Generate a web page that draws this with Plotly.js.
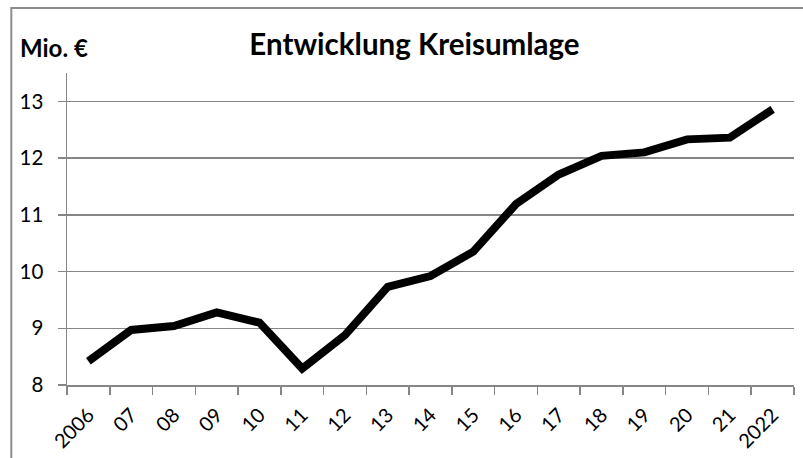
<!DOCTYPE html>
<html>
<head>
<meta charset="utf-8">
<script src="https://cdn.plot.ly/plotly-3.0.1.min.js"></script>
<style>
  html, body { margin: 0; padding: 0; background: #ffffff; }
  #chart { width: 803px; height: 458px; }
</style>
</head>
<body>
<div id="chart"></div>
<script>
const years = ["2006", "07", "08", "09", "10", "11", "12", "13", "14", "15", "16", "17", "18", "19", "20", "21", "2022"];
const kreisumlage = [8.42, 8.97, 9.04, 9.28, 9.10, 8.29, 8.88, 9.73, 9.92, 10.35, 11.19, 11.71, 12.04, 12.10, 12.33, 12.36, 12.86];
const yTicks = [8, 9, 10, 11, 12, 13];
const titleText = "Entwicklung Kreisumlage";
const unitText = "Mio. €";

const FONT = "Lato, 'Open Sans', 'Noto Sans', sans-serif";
const GRID = "#868686";

const trace = {
  type: "scatter",
  mode: "lines",
  x: years,
  y: kreisumlage,
  line: { color: "#000000", width: 8, shape: "linear" },
  hoverinfo: "x+y"
};

const layout = {
  width: 803,
  height: 458,
  margin: { l: 67, r: 9, t: 73, b: 73, pad: 0 },
  paper_bgcolor: "#ffffff",
  plot_bgcolor: "#ffffff",
  showlegend: false,
  font: { family: FONT, color: "#000000", size: 20 },
  title: {
    text: "<b>" + titleText + "</b>",
    font: { family: FONT, size: 29.5, color: "#000000" },
    xref: "paper",
    x: 0.478,
    xanchor: "center",
    yref: "container",
    y: 0.902,
    yanchor: "middle"
  },
  xaxis: {
    type: "category",
    range: [-0.5, years.length - 0.5],
    tickson: "boundaries",
    ticks: "outside",
    ticklen: 8,
    tickwidth: 1.5,
    tickcolor: GRID,
    showline: true,
    linecolor: GRID,
    linewidth: 1.5,
    showgrid: false,
    zeroline: false,
    tickangle: -45,
    ticklabelstandoff: 9,
    tickfont: { family: FONT, size: 20, color: "#000000" },
    fixedrange: true
  },
  yaxis: {
    range: [8, 13.5],
    tickvals: yTicks,
    ticktext: yTicks.map(String),
    ticks: "outside",
    ticklen: 8,
    tickwidth: 1.5,
    tickcolor: GRID,
    showline: true,
    linecolor: GRID,
    linewidth: 1.5,
    showgrid: true,
    gridcolor: GRID,
    gridwidth: 1.5,
    zeroline: false,
    ticklabelstandoff: 10,
    tickfont: { family: FONT, size: 20.5, color: "#000000" },
    fixedrange: true
  },
  annotations: [
    {
      text: "<b>" + unitText + "</b>",
      xref: "paper", yref: "paper",
      x: -0.068, y: 1.083,
      xanchor: "left", yanchor: "middle",
      showarrow: false,
      font: { family: FONT, size: 24, color: "#000000" }
    }
  ],
  shapes: [
    {
      type: "rect",
      xref: "paper", yref: "paper",
      x0: -0.0766, x1: 1.1,
      y0: -0.4, y1: 1.2083,
      line: { color: "#8c8c8c", width: 2 },
      fillcolor: "rgba(0,0,0,0)",
      layer: "below"
    }
  ]
};

Plotly.newPlot("chart", [trace], layout, { displayModeBar: false, staticPlot: true });
</script>
</body>
</html>
